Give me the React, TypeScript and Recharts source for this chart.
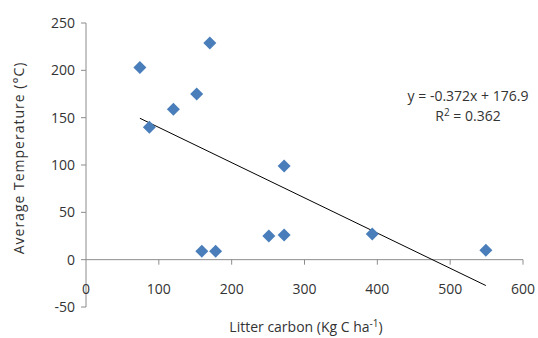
import React from "react";
import { ComposedChart, Scatter, XAxis, YAxis, ReferenceLine } from "recharts";

const litterCarbon = [74, 87, 120, 152, 170, 159, 178, 251, 272, 272, 393, 549];
const avgTemperature = [203, 140, 159, 175, 229, 9, 9, 25, 26, 99, 27, 10];
const xTicks = [0, 100, 200, 300, 400, 500, 600];
const yTicks = [-50, 0, 50, 100, 150, 200, 250];
const slope = -0.372;
const intercept = 176.9;
const equationText = "y = -0.372x + 176.9";
const r2Value = "0.362";

const W = 538;
const H = 338;
const M = { top: 23, right: 15, bottom: 30, left: 36 };
const XAXIS_H = 1;
const PLOT_H = H - M.top - M.bottom - XAXIS_H;
const Y_MIN = -50;
const Y_MAX = 250;
const FONT = "'Open Sans', sans-serif";
const TEXT = "#333333";
const AXIS = "#8c8c8c";
const BLUE = "#4A7EBB";

const points = litterCarbon.map((x, i) => ({ x, y: avgTemperature[i] }));
const xMin = Math.min(...litterCarbon);
const xMax = Math.max(...litterCarbon);
const trend = [
  { x: xMin, y: slope * xMin + intercept },
  { x: xMax, y: slope * xMax + intercept },
];

const Diamond = (props: any) => {
  const { cx, cy } = props;
  if (cx == null || cy == null) return <g />;
  const r = 6.5;
  return (
    <polygon
      points={`${cx},${cy - r} ${cx + r},${cy} ${cx},${cy + r} ${cx - r},${cy}`}
      fill={BLUE}
    />
  );
};

const XTick = (props: any) => {
  const { x, y, payload } = props;
  const zeroY = y - (PLOT_H * (0 - Y_MIN)) / (Y_MAX - Y_MIN);
  return (
    <g>
      {payload.value !== 0 && (
        <line x1={x} x2={x} y1={zeroY} y2={zeroY + 5} stroke={AXIS} strokeWidth={1} />
      )}
      <text
        x={x}
        y={zeroY + 29}
        dy="0.35em"
        textAnchor="middle"
        fontSize={14}
        fontFamily={FONT}
        fill={TEXT}
      >
        {payload.value}
      </text>
    </g>
  );
};

export default function App() {
  return (
    <div style={{ position: "absolute", left: 0, top: 0, background: "#fff" }}>
      <ComposedChart width={W} height={H} margin={M}>
        <XAxis
          type="number"
          dataKey="x"
          domain={[0, 600]}
          ticks={xTicks}
          axisLine={false}
          tickLine={false}
          tickSize={0}
          tickMargin={0}
          height={XAXIS_H}
          tick={<XTick />}
          interval={0}
        />
        <YAxis
          type="number"
          dataKey="y"
          domain={[Y_MIN, Y_MAX]}
          ticks={yTicks}
          width={50}
          axisLine={{ stroke: AXIS }}
          tickLine={{ stroke: AXIS }}
          tickSize={5}
          tickMargin={6}
          interval={0}
          tick={{ fontSize: 14, fontFamily: FONT, fill: TEXT }}
        />
        <ReferenceLine y={0} stroke={AXIS} strokeWidth={1} />
        <Scatter
          data={trend}
          line={{ stroke: "#000", strokeWidth: 1 }}
          shape={() => <g />}
          isAnimationActive={false}
        />
        <Scatter data={points} shape={<Diamond />} isAnimationActive={false} />
        <text
          x={468}
          y={96}
          dy="0.35em"
          textAnchor="middle"
          fontSize={14}
          fontFamily={FONT}
          fill={TEXT}
        >
          {equationText}
        </text>
        <text
          x={468}
          y={116}
          dy="0.35em"
          textAnchor="middle"
          fontSize={14}
          fontFamily={FONT}
          fill={TEXT}
        >
          R<tspan dy="-5" fontSize={10}>2</tspan>
          <tspan dy="5"> = {r2Value}</tspan>
        </text>
        <text
          x={306}
          y={327}
          dy="0.35em"
          textAnchor="middle"
          fontSize={14}
          fontFamily={FONT}
          fill={TEXT}
        >
          Litter carbon (Kg C ha<tspan dy="-5" fontSize={10}>-1</tspan>
          <tspan dy="5">)</tspan>
        </text>
        <text
          x={19}
          y={158}
          dy="0.35em"
          textAnchor="middle"
          fontSize={14}
          letterSpacing={1}
          fontFamily={FONT}
          fill={TEXT}
          transform="rotate(-90 19 158)"
        >
          Average Temperature (°C)
        </text>
      </ComposedChart>
    </div>
  );
}
